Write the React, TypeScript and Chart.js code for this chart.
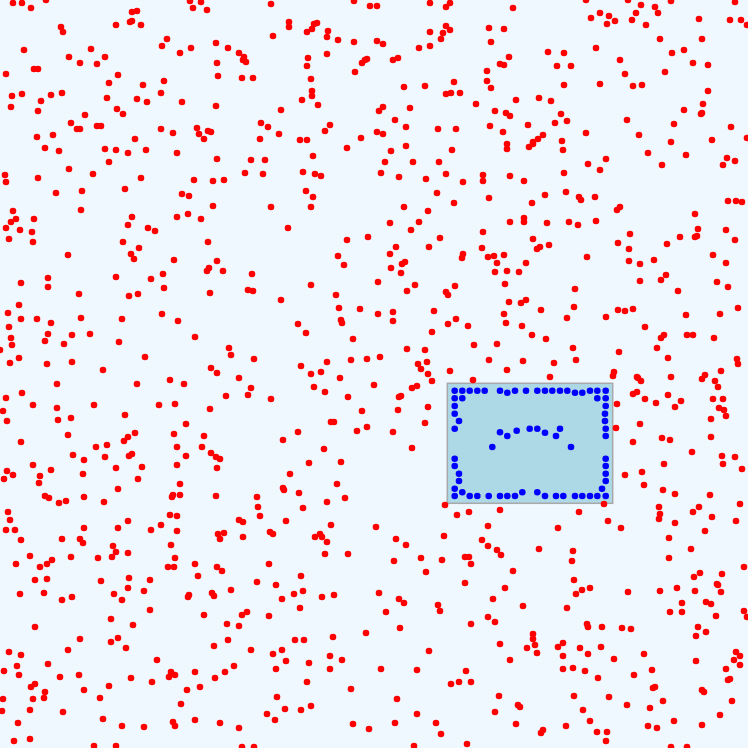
import React, { useEffect, useRef } from "react";
import { Chart, registerables } from "chart.js";

Chart.register(...registerables);

const axisRange = [0, 748];
const boxX = [447.3, 612.7];
const boxY = [383.3, 503.3];

const redPoints: number[][] = [
[13,3],[22,3],[31,8],[46,0],[190,1],[201,2],[193,8],[207,10],[132,12],[137,11],[116,25],[130,22],[132,21],[141,25],[61,27],[63,32],[24,50],[167,39],[162,46],[180,53],[191,48],[216,43],[228,48],[239,53],[244,57],[243,60],[246,62],[217,63],[242,78],[218,76],[69,57],[91,49],[80,63],[97,64],[105,57],[34,69],[38,69],[6,74],[118,75],[109,83],[143,85],[164,81],[161,93],[182,102],[216,106],[12,96],[22,94],[11,107],[41,101],[51,95],[62,93],[38,111],[107,98],[137,99],[147,102],[117,109],[123,114],[85,115],[71,123],[77,129],[80,129],[97,126],[101,126],[161,129],[173,133],[197,128],[199,134],[204,139],[208,131],[211,132],[135,139],[37,137],[53,135],[45,148],[59,151],[105,149],[116,150],[128,153],[146,150],[177,153],[217,159],[245,173],[109,162],[69,169],[93,174],[5,175],[6,182],[38,178],[141,178],[194,180],[213,181],[224,180],[56,193],[82,191],[125,189],[182,194],[189,196],[213,206],[13,211],[16,219],[11,222],[34,219],[6,228],[20,230],[32,232],[9,239],[33,242],[81,210],[132,217],[128,225],[148,228],[155,231],[177,217],[188,214],[201,219],[123,242],[139,248],[208,242],
[271,4],[354,1],[370,6],[377,6],[430,3],[446,7],[450,3],[289,22],[289,27],[273,36],[307,32],[312,29],[314,24],[317,23],[328,31],[327,37],[338,40],[354,42],[377,41],[383,44],[327,54],[308,58],[307,66],[253,78],[311,79],[312,91],[312,96],[302,100],[318,105],[281,110],[362,63],[365,60],[367,59],[355,72],[393,60],[398,58],[419,48],[430,46],[430,32],[441,39],[443,33],[446,26],[450,30],[489,28],[491,42],[487,71],[487,81],[491,88],[454,82],[451,93],[446,94],[460,93],[425,86],[404,87],[476,104],[495,111],[490,126],[410,108],[383,107],[379,111],[395,120],[406,127],[438,129],[456,129],[261,123],[268,127],[260,139],[279,134],[330,125],[325,131],[300,140],[307,140],[361,138],[347,148],[377,132],[383,134],[406,146],[391,151],[452,150],[251,160],[265,160],[263,174],[313,156],[303,172],[315,174],[321,176],[385,162],[413,162],[439,162],[381,173],[399,177],[426,179],[446,174],[463,182],[483,175],[483,181],[306,191],[313,197],[311,207],[271,207],[437,193],[454,203],[489,198],[404,207],[428,211],[390,223],[419,222],[411,230],[288,228],[347,240],[368,237],[396,247],[429,247],[440,238],[483,232],[482,248],
[513,8],[504,29],[586,0],[628,0],[641,5],[655,7],[658,13],[671,1],[636,13],[632,20],[646,25],[591,18],[600,13],[609,16],[607,24],[615,21],[735,2],[699,19],[730,20],[741,20],[747,25],[702,39],[660,39],[596,48],[548,52],[564,53],[557,66],[571,66],[509,57],[500,64],[504,65],[620,60],[625,74],[633,86],[642,85],[672,53],[684,50],[693,63],[708,65],[665,72],[564,85],[600,84],[708,91],[703,104],[701,114],[702,113],[684,110],[516,100],[539,98],[551,101],[506,113],[510,116],[561,114],[555,123],[567,121],[528,125],[627,120],[674,124],[731,127],[503,132],[507,144],[507,149],[529,147],[533,144],[533,142],[538,139],[543,135],[562,141],[563,150],[586,133],[639,135],[671,142],[712,140],[747,138],[648,153],[686,155],[606,159],[588,164],[600,170],[662,165],[727,158],[723,165],[735,161],[510,176],[524,181],[564,173],[545,195],[566,192],[579,197],[581,200],[595,197],[532,203],[617,210],[620,207],[695,214],[728,201],[736,201],[742,202],[510,222],[524,218],[524,222],[547,223],[569,222],[578,225],[596,221],[698,229],[726,230],[630,234],[618,243],[629,249],[680,237],[695,237],[697,236],[667,244],[735,240],[533,239],[540,247],[549,245],[537,249],
[68,255],[131,254],[134,259],[174,260],[217,261],[207,271],[209,268],[223,271],[248,290],[21,283],[48,278],[48,287],[116,277],[151,279],[163,274],[164,288],[129,296],[138,294],[210,293],[79,294],[19,305],[8,313],[21,319],[37,319],[51,323],[81,318],[122,319],[162,314],[178,321],[9,327],[11,338],[12,345],[48,334],[45,341],[72,335],[64,344],[90,334],[119,342],[195,337],[0,350],[19,358],[10,363],[47,364],[72,362],[103,370],[145,357],[229,348],[231,355],[211,368],[217,373],[239,378],[248,395],[226,396],[57,384],[137,384],[170,380],[184,384],[22,393],[6,398],[33,405],[57,408],[94,405],[159,405],[175,404],[210,409],[3,411],[7,421],[58,420],[71,418],[125,415],[186,424],[68,435],[21,442],[124,441],[128,437],[135,433],[174,434],[204,436],[202,447],[211,453],[216,457],[220,459],[217,468],[73,455],[84,460],[96,447],[107,445],[105,457],[129,456],[132,454],[116,468],[142,467],[177,447],[186,456],[177,465],[33,465],[51,470],[7,471],[4,479],[13,475],[40,476],[39,483],[83,474],[138,479],[118,489],[180,484],[45,496],[49,498],[84,497],[173,495],[172,497],[180,495],[216,496],[66,501],
[338,256],[344,265],[390,254],[463,254],[462,258],[488,257],[494,256],[497,263],[495,272],[391,268],[402,264],[405,262],[401,273],[252,274],[253,291],[311,285],[281,300],[336,295],[378,282],[415,285],[407,291],[446,292],[448,295],[455,286],[339,308],[360,309],[378,314],[393,312],[393,321],[341,320],[342,323],[434,311],[448,324],[456,319],[468,326],[298,324],[306,333],[353,339],[432,332],[407,349],[425,350],[474,345],[497,344],[254,359],[301,366],[311,374],[321,372],[327,362],[340,378],[351,360],[367,359],[380,357],[418,364],[427,362],[421,369],[428,374],[432,381],[450,371],[489,360],[473,380],[251,388],[271,399],[314,387],[325,392],[348,397],[374,385],[412,388],[417,386],[399,397],[401,396],[398,410],[428,407],[362,411],[331,422],[334,422],[298,432],[357,431],[367,427],[393,432],[425,423],[283,440],[324,449],[412,448],[309,463],[341,462],[290,474],[283,488],[284,490],[299,493],[337,484],[257,497],[345,498],
[504,255],[507,271],[519,272],[526,263],[587,257],[629,261],[640,264],[654,260],[713,255],[726,263],[505,284],[509,302],[521,303],[526,300],[541,310],[504,314],[506,323],[522,326],[532,335],[546,339],[575,289],[574,307],[567,318],[573,348],[576,360],[523,361],[554,363],[507,370],[550,377],[606,317],[618,310],[625,311],[633,309],[645,327],[640,281],[661,280],[666,275],[678,291],[686,315],[720,314],[717,282],[728,287],[738,308],[661,338],[664,335],[687,335],[693,335],[714,338],[657,348],[668,358],[619,352],[614,372],[613,376],[637,377],[638,378],[641,381],[671,377],[702,379],[705,375],[715,381],[718,387],[721,371],[737,359],[738,364],[633,394],[637,392],[645,399],[656,403],[668,395],[675,407],[681,401],[713,399],[723,399],[719,408],[724,410],[726,416],[711,419],[617,404],[616,428],[640,424],[633,442],[662,438],[670,440],[711,437],[692,452],[664,464],[722,456],[735,457],[723,464],[742,469],[625,475],[642,472],[644,485],[663,490],[675,494],[710,495],
[59,503],[104,502],[8,512],[10,520],[6,530],[15,530],[21,540],[30,556],[16,564],[40,567],[47,564],[52,560],[35,580],[47,579],[20,594],[44,593],[62,539],[80,539],[83,543],[84,528],[71,557],[62,600],[72,597],[98,558],[101,581],[112,557],[113,546],[116,552],[118,528],[128,521],[128,553],[151,530],[161,525],[170,515],[177,516],[177,531],[171,545],[175,558],[168,567],[174,567],[195,564],[198,576],[217,567],[222,571],[218,534],[224,533],[220,539],[239,520],[243,522],[243,537],[129,578],[128,588],[114,594],[122,600],[150,580],[144,591],[150,610],[189,595],[188,597],[212,593],[214,596],[231,590],[204,615],[242,615],[247,612],[227,624],[239,626],[228,640],[214,646],[35,627],[111,619],[133,625],[80,639],[111,642],[118,638],[126,648],[68,650],[9,652],[21,655],[4,671],[17,666],[19,675],[48,664],[60,677],[79,675],[157,660],[171,672],[169,677],[175,675],[131,678],[152,682],[195,672],[215,678],[225,672],[234,666],[31,687],[35,684],[45,692],[44,698],[33,699],[3,699],[2,711],[30,710],[63,712],[84,690],[109,686],[100,698],[103,719],[187,690],[200,687],[181,704],[18,723],[14,741],[30,739],[122,726],[144,727],[173,722],[175,726],[195,720],[220,723],[239,728],[94,746],[116,746],[242,747],
[327,502],[303,508],[258,507],[260,516],[286,521],[270,532],[273,534],[315,537],[320,534],[322,537],[327,542],[331,525],[325,554],[348,554],[376,527],[396,539],[406,545],[394,561],[421,558],[426,572],[442,560],[444,536],[445,505],[457,515],[469,512],[488,526],[482,540],[488,546],[497,550],[465,557],[469,557],[471,564],[465,583],[493,599],[488,617],[495,622],[471,624],[269,564],[257,582],[276,585],[301,576],[282,599],[294,594],[303,591],[322,597],[334,595],[300,608],[269,616],[379,593],[399,599],[404,603],[386,612],[400,628],[438,605],[440,611],[366,633],[295,640],[304,640],[333,637],[251,650],[273,654],[282,650],[286,661],[276,669],[309,663],[330,656],[330,669],[342,660],[381,669],[417,670],[429,651],[466,671],[451,684],[459,682],[471,682],[307,682],[351,689],[277,697],[285,709],[301,710],[311,706],[267,714],[275,720],[397,699],[417,714],[495,712],[353,724],[369,729],[395,723],[436,723],[441,734],[467,744],[414,746],[254,747],
[604,504],[579,512],[500,510],[558,528],[608,521],[621,528],[539,549],[501,555],[573,551],[572,561],[513,571],[505,588],[574,580],[582,590],[590,588],[576,594],[523,606],[567,608],[628,592],[660,591],[677,588],[670,612],[682,603],[682,612],[659,507],[660,514],[659,519],[675,523],[693,512],[699,507],[712,517],[705,531],[740,504],[736,521],[669,538],[669,558],[691,549],[744,567],[694,577],[700,573],[722,574],[717,584],[718,585],[721,592],[695,591],[706,602],[711,604],[716,616],[744,611],[747,617],[698,627],[696,636],[706,632],[533,634],[533,639],[535,645],[527,648],[537,653],[500,644],[510,660],[587,624],[588,627],[602,627],[622,628],[631,629],[563,643],[558,647],[563,656],[580,648],[588,654],[601,647],[614,659],[644,654],[563,669],[573,668],[585,671],[598,678],[634,675],[652,670],[696,661],[736,652],[740,656],[740,665],[734,660],[726,669],[728,680],[730,679],[655,687],[653,688],[663,701],[702,690],[704,692],[732,701],[574,696],[609,697],[627,705],[650,708],[499,696],[518,705],[520,707],[583,710],[590,721],[516,724],[566,726],[541,733],[543,730],[597,732],[607,732],[606,741],[648,726],[657,728],[674,721],[702,725],[720,715],[671,747],[687,747]
];

const bluePoints: number[][] = [
[454.7,390.7],[462.3,390.7],[469.7,390.7],[477.3,390.7],[484.7,390.7],[500,390.7],[507.3,392.7],[515,390.7],[526,390.7],[537.3,390.7],[545,390.7],[552.3,390.7],[560,390.7],[567.3,390.7],[575,392.7],[582.3,392.7],[590,390.7],[597.3,390.7],[605.7,390.7],
[454.7,398.3],[462.3,398.3],[597.3,398.3],[605.7,398.3],
[454.7,406],[454.7,413.7],[459,421],[454.7,428.7],
[605.7,406],[605,413.7],[605,421],[605.7,428.7],[605.7,436],
[500,432.3],[507.3,436],[516.7,430.7],[529.7,428.7],[537.3,428.7],[545,432.7],[556,436],[560,428.7],[492.3,447],[571,447],
[454.7,458.7],[454.7,466],[459,473.7],[459,481],[454.7,488.7],[462.3,492.3],[454.7,496],
[605.7,458.7],[605.7,466],[605.7,473.7],[605.7,481],[602,488.7],[605.7,496],
[469.7,496],[477.3,496],[488.7,496],[500,496],[507.3,496],[515,496],[522.3,492.3],[537.3,492.3],[545,496],[556,496],[563.3,496],[575,496],[582.3,496],[590,496],[597.3,496]
];

const bgPlugin = {
  id: "bgAndBox",
  beforeDatasetsDraw(chart: any) {
    const { ctx, scales } = chart;
    ctx.save();
    ctx.fillStyle = "#F0F8FF";
    ctx.fillRect(0, 0, chart.width, chart.height);
    const x0 = scales.x.getPixelForValue(boxX[0]);
    const x1 = scales.x.getPixelForValue(boxX[1]);
    const y0 = scales.y.getPixelForValue(boxY[0]);
    const y1 = scales.y.getPixelForValue(boxY[1]);
    ctx.fillStyle = "#ADD8E6";
    ctx.fillRect(x0, y0, x1 - x0, y1 - y0);
    ctx.strokeStyle = "#A9A9A9";
    ctx.lineWidth = 1.5;
    ctx.strokeRect(x0, y0, x1 - x0, y1 - y0);
    ctx.restore();
  },
};

export default function App() {
  const ref = useRef<HTMLCanvasElement | null>(null);
  useEffect(() => {
    if (!ref.current) return;
    const chart = new Chart(ref.current, {
      type: "scatter",
      data: {
        datasets: [
          {
            label: "blue",
            data: bluePoints.map(([x, y]) => ({ x, y })),
            backgroundColor: "#0000FF",
            borderWidth: 0,
            pointRadius: 3.3,
            pointHoverRadius: 3.3,
          },
          {
            label: "red",
            data: redPoints.map(([x, y]) => ({ x, y })),
            backgroundColor: "#FF0000",
            borderWidth: 0,
            pointRadius: 3.3,
            pointHoverRadius: 3.3,
          },
        ],
      },
      options: {
        responsive: false,
        maintainAspectRatio: false,
        animation: false,
        events: [],
        layout: { padding: 0, autoPadding: false },
        plugins: { legend: { display: false }, tooltip: { enabled: false } },
        scales: {
          x: { type: "linear", display: false, min: axisRange[0], max: axisRange[1] },
          y: { type: "linear", display: false, min: axisRange[0], max: axisRange[1], reverse: true },
        },
      },
      plugins: [bgPlugin],
    });
    return () => chart.destroy();
  }, []);
  return (
    <div style={{ position: "fixed", left: 0, top: 0, width: 748, height: 748, background: "#F0F8FF" }}>
      <canvas ref={ref} width={748} height={748} style={{ display: "block" }} />
    </div>
  );
}
